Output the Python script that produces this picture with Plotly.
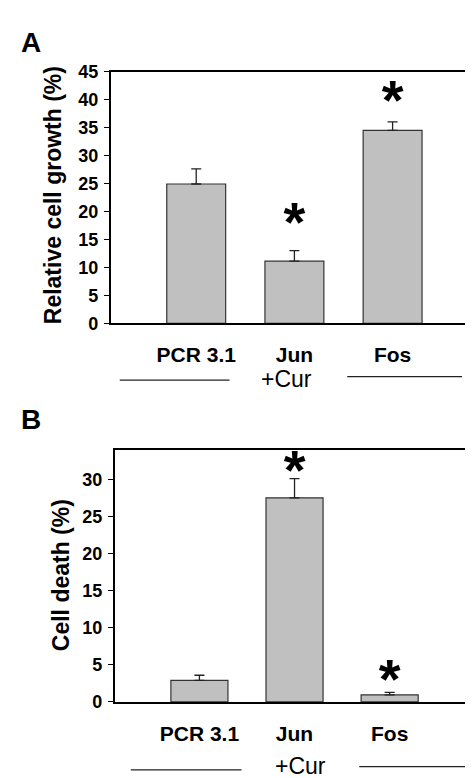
import plotly.graph_objects as go

W, H = 473, 778
categories = ["PCR 3.1", "Jun", "Fos"]

# Panel A: relative cell growth (%)
growth = [24.9, 11.1, 34.5]
growth_err = [2.7, 1.9, 1.5]
growth_sig = [None, 19.5, 41.4]   # height of the significance star (axis units)

# Panel B: cell death (%)
death = [2.9, 27.5, 0.95]
death_err = [0.7, 2.6, 0.35]
death_sig = [None, 32.3, 4.1]

yticks_a = [0, 5, 10, 15, 20, 25, 30, 35, 40, 45]
yticks_b = [0, 5, 10, 15, 20, 25, 30]

FONT = "Arial, Liberation Sans, sans-serif"
BAR = "#c0c0c0"
STAR_SIZE = 56


def px(x):
    return x / W


def py(y):
    return 1 - y / H


# plot-area pixel geometry
A_TOP, A_BOT = 55, 313.3
B_TOP, B_BOT = 443, 702
A_MAX, B_MAX = 45, 34

fig = go.Figure()

for vals, errs, xa, ya in [(growth, growth_err, "x", "y"), (death, death_err, "x2", "y2")]:
    fig.add_trace(go.Bar(
        x=categories, y=vals, xaxis=xa, yaxis=ya, width=0.6,
        marker=dict(color=BAR, line=dict(color="#333333", width=1.2)),
        error_y=dict(type="data", symmetric=False, array=errs,
                     arrayminus=[0] * len(errs), color="#222222",
                     thickness=1.3, width=5),
        showlegend=False, hoverinfo="skip",
    ))

# the "*" glyph sits ~0.235em above the text anchor; compensate in axis units
for sig, xa, ya, ppu in [(growth_sig, "x", "y", (A_BOT - A_TOP) / A_MAX),
                         (death_sig, "x2", "y2", (B_BOT - B_TOP) / B_MAX)]:
    shift = 0.235 * STAR_SIZE / ppu
    xs = [c for c, s in zip(categories, sig) if s is not None]
    ys = [s - shift for s in sig if s is not None]
    fig.add_trace(go.Scatter(
        x=xs, y=ys, xaxis=xa, yaxis=ya, mode="text", text=["*"] * len(xs),
        textposition="middle center", cliponaxis=False,
        textfont=dict(family=FONT, size=STAR_SIZE, color="black", weight="bold"),
        showlegend=False, hoverinfo="skip",
    ))

tickfont = dict(family=FONT, size=18, color="black", weight="bold")
xtickfont = dict(family=FONT, size=21, color="black", weight="bold")

fig.update_layout(
    width=W, height=H, margin=dict(l=0, r=0, t=0, b=0),
    paper_bgcolor="white", plot_bgcolor="white",
    bargap=0.4,
    xaxis=dict(domain=[px(103), px(472)], range=[-0.87, 2.88], showline=True,
               linecolor="black", linewidth=1.8, mirror=True, ticks="",
               tickfont=xtickfont, ticklabelstandoff=12, showgrid=False,
               anchor="y", fixedrange=True),
    yaxis=dict(domain=[py(A_BOT), py(A_TOP)], range=[0, A_MAX], tickvals=yticks_a,
               showline=True, linecolor="black", linewidth=1.8, mirror=True,
               ticks="outside", ticklen=5, tickwidth=1.2, tickcolor="black",
               tickfont=tickfont, showgrid=False, zeroline=False, anchor="x",
               ticklabelstandoff=2),
    xaxis2=dict(domain=[px(107), 1.0], range=[-0.89, 2.95], showline=True,
                linecolor="black", linewidth=1.8, mirror=True, ticks="",
                tickfont=xtickfont, ticklabelstandoff=12, showgrid=False,
                anchor="y2"),
    yaxis2=dict(domain=[py(B_BOT), py(B_TOP)], range=[0, B_MAX], tickvals=yticks_b,
                showline=True, linecolor="black", linewidth=1.8, mirror=False,
                ticks="outside", ticklen=5, tickwidth=1.2, tickcolor="black",
                tickfont=tickfont, showgrid=False, zeroline=False, anchor="x2",
                ticklabelstandoff=2),
)

ann = []
# Panel letters
ann.append(dict(text="A", x=px(11), y=py(25), xanchor="left", yanchor="middle"))
ann.append(dict(text="B", x=px(11), y=py(412), xanchor="left", yanchor="middle"))
for a in ann:
    a.update(xref="paper", yref="paper", showarrow=False,
             font=dict(family=FONT, size=28, color="black", weight="bold"))

# Y titles
ann.append(dict(text="Relative cell growth (%)", x=px(45), y=py(182), xref="paper",
                yref="paper", showarrow=False, textangle=-90,
                xanchor="center", yanchor="middle",
                font=dict(family=FONT, size=23, color="black", weight="bold")))
ann.append(dict(text="Cell death (%)", x=px(53), y=py(572), xref="paper",
                yref="paper", showarrow=False, textangle=-90,
                xanchor="center", yanchor="middle",
                font=dict(family=FONT, size=23, color="black", weight="bold")))

# +Cur labels
for xc, yc in [(279, 371), (293, 768)]:
    ann.append(dict(text="+Cur", x=px(xc), y=py(yc), xref="paper", yref="paper",
                    showarrow=False, xanchor="center", yanchor="middle",
                    font=dict(family=FONT, size=23, color="black")))
fig.update_layout(annotations=ann)

# bracket lines
lines = [(112, 222, 371.7), (340, 455, 368), (123, 234, 771.7), (352, 467, 768.3)]
for x0, x1, yy in lines:
    fig.add_shape(type="line", xref="paper", yref="paper", x0=px(x0), x1=px(x1),
                  y0=py(yy), y1=py(yy), line=dict(color="#222222", width=1.3))

fig.write_html("out.html")
